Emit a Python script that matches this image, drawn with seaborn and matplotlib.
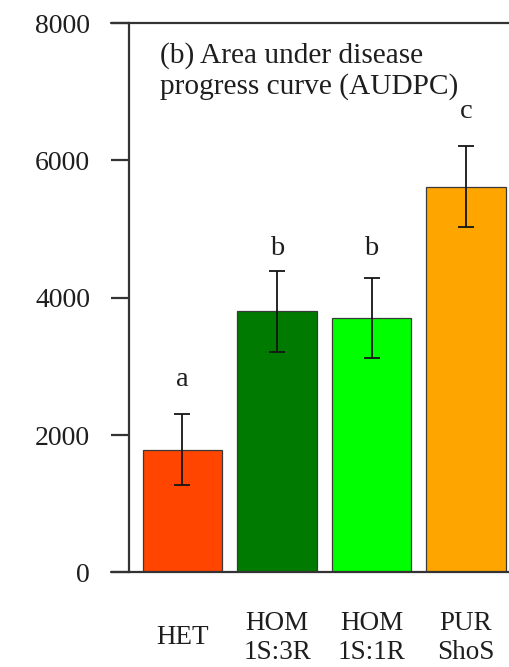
import matplotlib
matplotlib.use("Agg")
import matplotlib.pyplot as plt
import seaborn as sns
import pandas as pd

# AUDPC per mixture treatment (mean and error half-width)
groups = ["HET", "HOM\n1S:3R", "HOM\n1S:1R", "PUR\nShoS"]
audpc = [1790, 3800, 3705, 5615]
audpc_err = [515, 590, 582, 590]
sig_letters = ["a", "b", "b", "c"]
bar_colors = ["#ff4500", "#007a00", "#00ff00", "#ffa500"]
y_ticks = [0, 2000, 4000, 6000, 8000]

sns.set_theme(style="white")
plt.rcParams["font.family"] = ["Liberation Serif", "DejaVu Serif"]

fig = plt.figure(figsize=(5.10, 6.67), dpi=100)
ax = fig.add_axes([0.2529, 0.1417, 0.7722, 0.8238])

df = pd.DataFrame({"group": groups, "audpc": audpc})
sns.barplot(data=df, x="group", y="audpc", hue="group",
            palette=dict(zip(groups, bar_colors)), saturation=1,
            width=0.84, edgecolor="#3a3a3a", linewidth=0.9,
            errorbar=None, legend=False, ax=ax)

ax.errorbar(range(len(groups)), audpc, yerr=audpc_err, fmt="none",
            ecolor="#151515", elinewidth=1.3, capsize=6, capthick=1.3)

# significance letters above the error bars
letter_y = [2715, 4620, 4620, 6610]
for i, (lab, yy) in enumerate(zip(sig_letters, letter_y)):
    ax.text(i, yy, lab, ha="center", va="baseline", fontsize=20.5, color="#1e1e1e")

ax.set_xlim(-0.566, 3.6)
ax.set_ylim(0, 8000)
ax.set_yticks(y_ticks)
ax.set_xlabel("")
ax.set_ylabel("")

for side in ["top", "right", "bottom"]:
    ax.spines[side].set_visible(False)
ax.spines["left"].set_color("#333333")
ax.spines["left"].set_linewidth(1.6)

# horizontal frame lines running from the tick marks across the panel
for yv in (0, 8000):
    ax.axhline(yv, xmin=-0.0457, xmax=1, color="#333333", lw=1.6, clip_on=False)

ax.tick_params(axis="y", left=True, direction="out", length=13, width=1.6,
               color="#333333", pad=15, labelsize=20, labelcolor="#1e1e1e")
ax.tick_params(axis="x", bottom=False, length=0, pad=47, labelsize=19.5,
               labelcolor="#1e1e1e")
plt.setp(ax.get_xticklabels(), va="center", linespacing=1.2)

ax.text(0.079, 0.927, "(b) Area under disease", transform=ax.transAxes,
        fontsize=21.2, ha="left", va="baseline", color="#1e1e1e")
ax.text(0.079, 0.872, "progress curve (AUDPC)", transform=ax.transAxes,
        fontsize=21.2, ha="left", va="baseline", color="#1e1e1e")

fig.savefig("out.png", dpi=100, facecolor="white")
